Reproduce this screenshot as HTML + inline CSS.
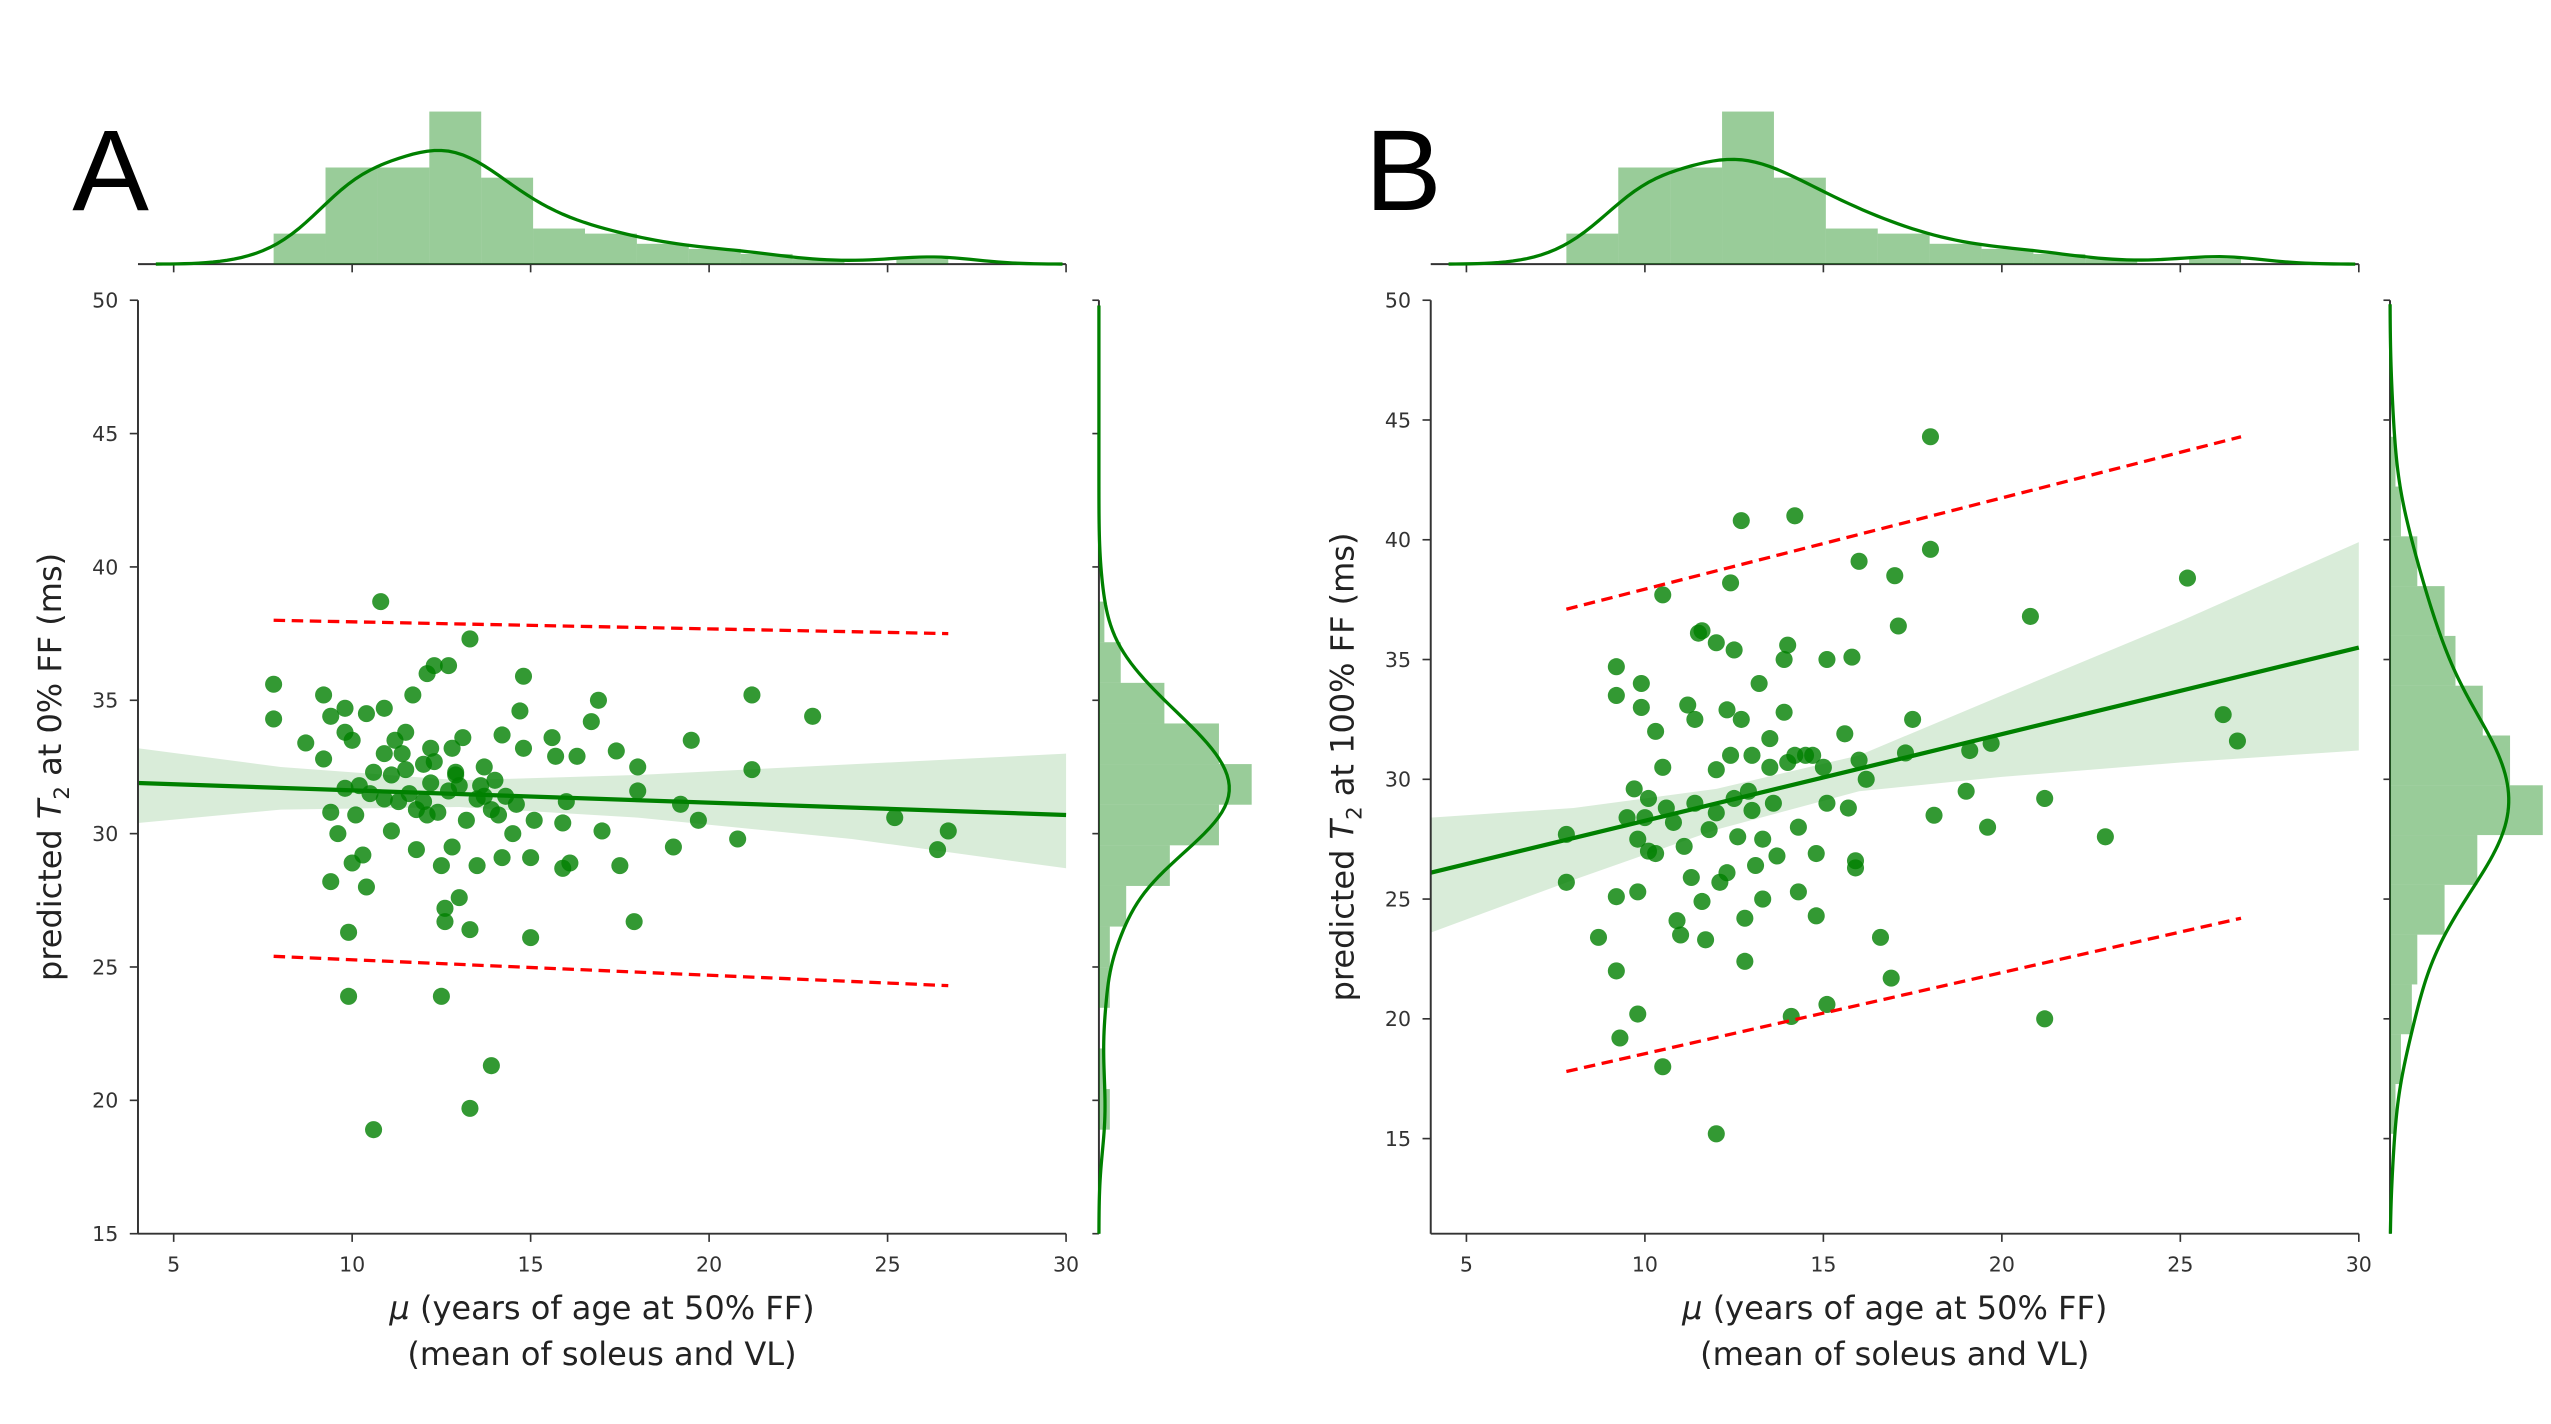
<!DOCTYPE html>
<html><head><meta charset="utf-8"><style>
html,body{margin:0;padding:0;background:#fff;}
svg{display:block;font-family:"DejaVu Sans","Liberation Sans",sans-serif;}
</style></head><body>
<svg id="fig" width="2551" height="1424" viewBox="0 0 1553 868" preserveAspectRatio="none" xmlns="http://www.w3.org/2000/svg"></svg>
<script>
// ---------- data ----------
const xTicks = [5,10,15,20,25,30];
const yTicksA = [15,20,25,30,35,40,45,50];
const yTicksB = [15,20,25,30,35,40,45,50];
const ptsAx = [7.8,7.8,8.7,9.2,9.2,9.4,9.4,9.4,9.6,9.8,9.8,9.8,9.9,9.9,10,10,10.1,10.3,10.4,10.4,10.5,10.6,10.6,10.8,10.9,10.9,11.1,11.1,11.3,11.5,11.5,11.7,11.8,11.8,12,12,12.1,12.2,12.3,12.3,12.4,12.5,12.5,12.6,12.6,12.7,12.7,12.8,12.8,12.9,13,13,13.1,13.2,13.3,13.3,13.3,13.5,13.5,13.7,13.7,13.9,13.9,14,14.2,14.2,14.3,14.5,14.6,14.7,14.8,14.8,15,15,15.1,15.6,15.7,15.9,15.9,16,16.1,16.3,16.7,16.9,17,17.4,17.5,17.9,18,18,19,19.2,19.5,19.7,20.8,21.2,21.2,22.9,25.2,26.4,26.7,11.2,10.2,11.6,12.1,13.6,12.9,10.9,11.4,14.1,12.2];
const ptsAy = [35.6,34.3,33.4,35.2,32.8,34.4,30.8,28.2,30,34.7,33.8,31.7,26.3,23.9,33.5,28.9,30.7,29.2,34.5,28,31.5,32.3,18.9,38.7,34.7,33,32.2,30.1,31.2,33.8,32.4,35.2,29.4,30.9,32.6,31.2,36,33.2,36.3,32.7,30.8,28.8,23.9,27.2,26.7,31.6,36.3,33.2,29.5,32.3,31.8,27.6,33.6,30.5,37.3,26.4,19.7,31.3,28.8,32.5,31.4,30.9,21.3,32,33.7,29.1,31.4,30,31.1,34.6,35.9,33.2,26.1,29.1,30.5,33.6,32.9,30.4,28.7,31.2,28.9,32.9,34.2,35,30.1,33.1,28.8,26.7,32.5,31.6,29.5,31.1,33.5,30.5,29.8,35.2,32.4,34.4,30.6,29.4,30.1,33.5,31.8,31.5,30.7,31.8,32.2,31.3,33,30.7,31.9];
const ptsBx = [7.8,7.8,8.7,9.2,9.2,9.2,9.2,9.3,9.5,9.7,9.8,9.8,9.8,9.9,9.9,10,10.1,10.1,10.3,10.3,10.5,10.5,10.5,10.6,10.8,10.9,11,11.1,11.2,11.3,11.4,11.4,11.5,11.6,11.6,11.7,11.8,12,12,12,12,12.1,12.3,12.3,12.4,12.4,12.5,12.5,12.6,12.7,12.7,12.8,12.8,12.9,13,13,13.1,13.2,13.3,13.3,13.5,13.5,13.6,13.7,13.9,13.9,14,14,14.2,14.2,14.3,14.3,14.1,14.5,14.7,14.8,14.8,15,15.1,15.1,15.1,15.6,15.7,15.8,15.9,15.9,16,16,16.2,16.6,16.9,17,17.1,17.3,17.5,18,18,18.1,19,19.1,19.6,19.7,20.8,21.2,21.2,22.9,25.2,26.2,26.6];
const ptsBy = [27.7,25.7,23.4,34.7,33.5,25.1,22,19.2,28.4,29.6,20.2,25.3,27.5,34,33,28.4,29.2,27,32,26.9,37.7,30.5,18,28.8,28.2,24.1,23.5,27.2,33.1,25.9,32.5,29,36.1,36.2,24.9,23.3,27.9,35.7,30.4,28.6,15.2,25.7,32.9,26.1,38.2,31,35.4,29.2,27.6,40.8,32.5,24.2,22.4,29.5,31,28.7,26.4,34,27.5,25,31.7,30.5,29,26.8,35,32.8,35.6,30.7,41,31,28,25.3,20.1,31,31,26.9,24.3,30.5,35,29,20.6,31.9,28.8,35.1,26.6,26.3,39.1,30.8,30,23.4,21.7,38.5,36.4,31.1,32.5,44.3,39.6,28.5,29.5,31.2,28,31.5,36.8,29.2,20,27.6,38.4,32.7,31.6];
const histXCounts = [6,19,19,30,17,7,6,4,3,2,1,0,1];
const histXRange = [7.8,26.7];
const histAyCounts = [2,1,0,2,2,5,13,22,28,22,12,4,1];
const histAyRange = [18.9,38.7];
const histByCounts = [1,2,4,5,10,16,28,22,17,12,10,5,2,1];
const histByRange = [15.2,44.3];
const fitA = [[4,31.9],[30,30.7]];
const bandAx = [4,8,13,18,24,30];
const bandAlo = [30.4,30.9,31.0,30.6,29.8,28.7];
const bandAhi = [33.2,32.5,32.0,32.2,32.6,33.0];
const predAup = [[7.8,38.0],[26.7,37.5]];
const predAlo = [[7.8,25.4],[26.7,24.3]];
const fitB = [[4,26.1],[30,35.5]];
const bandBx = [4,8,12,16,20,25,30];
const bandBlo = [23.6,25.8,27.9,29.5,30.1,30.7,31.2];
const bandBhi = [28.4,28.8,29.6,31.0,33.5,36.6,39.9];
const predBup = [[7.8,37.1],[26.7,44.3]];
const predBlo = [[7.8,17.8],[26.7,24.2]];

// ---------- helpers ----------
const NS="http://www.w3.org/2000/svg";
const svg=document.getElementById('fig');
function mk(tag,attrs,parent){const e=document.createElementNS(NS,tag);for(const k in attrs)e.setAttribute(k,attrs[k]);(parent||svg).appendChild(e);return e;}
function kde(data,grid,f){const n=data.length;const m=data.reduce((a,b)=>a+b,0)/n;const sd=Math.sqrt(data.reduce((a,b)=>a+(b-m)*(b-m),0)/(n-1));const h=f*sd*Math.pow(n,-0.2);return grid.map(g=>{let s=0;for(const d of data){const z=(g-d)/h;s+=Math.exp(-0.5*z*z);}return s/(n*h*Math.sqrt(2*Math.PI));});}

function panel(o){
  const g=mk('g',{});
  
  
  const L=o.left,R=o.left+565,T=183,B=752;
  const sx=v=>L+(v-4)/(30-4)*(R-L);
  const sy=v=>B-(v-o.ymin)/(50-o.ymin)*(B-T);
  let d='';
  o.bx.forEach((x,i)=>{d+=(i?'L':'M')+sx(x)+','+sy(o.bhi[i]);});
  for(let i=o.bx.length-1;i>=0;i--)d+='L'+sx(o.bx[i])+','+sy(o.blo[i]);
  const band=mk('path',{d:d+'Z',fill:'#008000','fill-opacity':0.15},g);
  
  
  o.px.forEach((x,i)=>{const c=mk('circle',{cx:sx(x),cy:sy(o.py[i]),r:5.2,fill:'#008000','fill-opacity':0.8},g);
    
    });
  const fl=mk('line',{x1:sx(o.fit[0][0]),y1:sy(o.fit[0][1]),x2:sx(o.fit[1][0]),y2:sy(o.fit[1][1]),stroke:'#008000','stroke-width':2.6},g);
  
  
  [o.pu,o.pl].forEach((p,k)=>{const l=mk('line',{x1:sx(p[0][0]),y1:sy(p[0][1]),x2:sx(p[1][0]),y2:sy(p[1][1]),stroke:'#ff0000','stroke-width':2,'stroke-dasharray':'7,4'},g);
    
    });
  mk('line',{x1:L,y1:T,x2:L,y2:B,stroke:'#333','stroke-width':1.2},g);
  mk('line',{x1:L,y1:B,x2:R,y2:B,stroke:'#333','stroke-width':1.2},g);
  xTicks.forEach(t=>{mk('line',{x1:sx(t),y1:B,x2:sx(t),y2:B+5,stroke:'#333','stroke-width':1},g);
    const tx=mk('text',{x:sx(t),y:B+23,'font-size':12.5,'text-anchor':'middle',fill:'#333'},g);tx.textContent=t;
    
    
    mk('line',{x1:sx(t),y1:161,x2:sx(t),y2:166,stroke:'#333','stroke-width':1},g);});
  o.yt.forEach(t=>{mk('line',{x1:L,y1:sy(t),x2:L-5,y2:sy(t),stroke:'#333','stroke-width':1},g);
    const tx=mk('text',{x:L-12,y:sy(t)+4.5,'font-size':12.5,'text-anchor':'end',fill:'#333'},g);tx.textContent=t;
    
    
    mk('line',{x1:o.rx,y1:sy(t),x2:o.rx-4,y2:sy(t),stroke:'#333','stroke-width':1},g);});
  mk('line',{x1:L,y1:161,x2:R,y2:161,stroke:'#333','stroke-width':1.2},g);
  const nx=histXCounts.length,bwx=(histXRange[1]-histXRange[0])/nx,totx=histXCounts.reduce((a,b)=>a+b,0);
  const dens=histXCounts.map(c=>c/(totx*bwx));const maxd=Math.max(...dens);const scT=93/maxd;
  dens.forEach((dv,i)=>{const x0=sx(histXRange[0]+i*bwx),x1=sx(histXRange[0]+(i+1)*bwx);
    const r=mk('rect',{x:x0,y:161-dv*scT,width:x1-x0,height:dv*scT,fill:'#008000','fill-opacity':0.4},g);
    
    });
  const gx=[];for(let v=4.5;v<=30;v+=0.2)gx.push(v);
  const kx=kde(o.px,gx,0.75);
  const kp=mk('path',{d:gx.map((v,i)=>(i?'L':'M')+sx(v)+','+(161-kx[i]*scT)).join(''),fill:'none',stroke:'#008000','stroke-width':2},g);
  
  
  mk('line',{x1:o.rx,y1:T,x2:o.rx,y2:B,stroke:'#333','stroke-width':1.2},g);
  const hc=o.hc,hr=o.hr,ny=hc.length,bwy=(hr[1]-hr[0])/ny,toty=hc.reduce((a,b)=>a+b,0);
  const densY=hc.map(c=>c/(toty*bwy));const scR=93/Math.max(...densY);
  densY.forEach((dv,i)=>{const y0=sy(hr[0]+(i+1)*bwy),y1=sy(hr[0]+i*bwy);
    const r=mk('rect',{x:o.rx,y:y0,width:dv*scR,height:y1-y0,fill:'#008000','fill-opacity':0.4},g);
    
    });
  const gy=[];for(let v=o.ymin;v<=50;v+=0.2)gy.push(v);
  const ky=kde(o.py,gy,1);
  const kr=mk('path',{d:gy.map((v,i)=>(i?'L':'M')+(o.rx+ky[i]*scR)+','+sy(v)).join(''),fill:'none',stroke:'#008000','stroke-width':2},g);
  
  
  const pl=mk('text',{x:o.left-40,y:128,'font-size':70,fill:'#000','font-family':'Liberation Sans, sans-serif'},g);pl.textContent=o.letter;
  
  
  const xl=mk('text',{x:(L+R)/2,y:804,'font-size':19.5,'text-anchor':'middle',fill:'#222'},g);
  xl.innerHTML='<tspan font-style="italic">μ</tspan> (years of age at 50% FF)';
  
  
  const xl2=mk('text',{x:(L+R)/2,y:832,'font-size':19.5,'text-anchor':'middle',fill:'#222'},g);
  xl2.textContent='(mean of soleus and VL)';
  
  
  const yl=mk('text',{x:0,y:0,'font-size':19.5,'text-anchor':'middle',fill:'#222',transform:'translate('+(o.left-47)+','+((T+B)/2)+') rotate(-90)'},g);
  yl.innerHTML='predicted <tspan font-style="italic">T</tspan><tspan font-size="13" dy="5">2</tspan><tspan dy="-5"> at '+o.ff+' FF (ms)</tspan>';
  
  
}
panel({name:'panel-a',letter:'A',left:84,rx:669,ymin:15,yt:yTicksA,px:ptsAx,py:ptsAy,fit:fitA,bx:bandAx,blo:bandAlo,bhi:bandAhi,pu:predAup,pl:predAlo,hc:histAyCounts,hr:histAyRange,ff:'0%'});
panel({name:'panel-b',letter:'B',left:871,rx:1455,ymin:11.03,yt:yTicksB.filter(t=>t>=15),px:ptsBx,py:ptsBy,fit:fitB,bx:bandBx,blo:bandBlo,bhi:bandBhi,pu:predBup,pl:predBlo,hc:histByCounts,hr:histByRange,ff:'100%'});
</script>
</body></html>
